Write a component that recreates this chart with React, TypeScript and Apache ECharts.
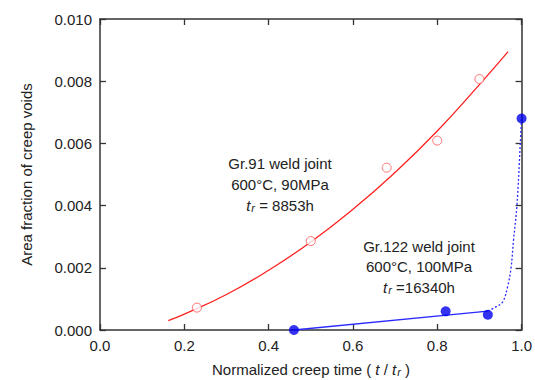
import React, { useEffect, useRef } from "react";
import * as echarts from "echarts";

const gr91PointsX = [0.23, 0.5, 0.68, 0.8, 0.9];
const gr91PointsY = [0.00072, 0.00286, 0.00522, 0.00609, 0.00807];
const gr91FitX = [0.162, 0.2, 0.3, 0.4, 0.5, 0.6, 0.7, 0.8, 0.9, 0.968];
const gr91FitY = [0.0003, 0.00051, 0.00114, 0.00192, 0.00283, 0.00388, 0.00507, 0.0064, 0.00789, 0.00895];
const gr122PointsX = [0.46, 0.82, 0.92, 1.0];
const gr122PointsY = [0.0, 0.0006, 0.00049, 0.0068];
const gr122LineX = [0.46, 0.92];
const gr122LineY = [0.0, 0.00061];
const gr122DotX = [0.92, 0.94, 0.955, 0.967, 0.975, 0.981, 0.989, 0.997, 1.0];
const gr122DotY = [0.00061, 0.00075, 0.0009, 0.0014, 0.002, 0.0029, 0.004, 0.006, 0.0068];
const xTicks = ["0.0", "0.2", "0.4", "0.6", "0.8", "1.0"];
const yTicks = ["0.000", "0.002", "0.004", "0.006", "0.008", "0.010"];

const FONT = "'Liberation Sans', Arial, sans-serif";
const pairs = (xs: number[], ys: number[]) => xs.map((x, i) => [x, ys[i]]);

export default function App() {
  const ref = useRef<HTMLDivElement>(null);
  useEffect(() => {
    document.body.style.margin = "0";
    if (!ref.current) return;
    const chart = echarts.init(ref.current, undefined, { renderer: "svg" });
    const axisLine = () => ({ show: true, onZero: false, lineStyle: { color: "#333", width: 1.5 } });
    const axisTick = () => ({ show: true, inside: true, length: 6, lineStyle: { color: "#333", width: 1.3 } });
    const rich = {
      i: { fontStyle: "italic" as const, fontSize: 15, fontFamily: FONT, fill: "#222" },
      s: { fontStyle: "italic" as const, fontSize: 11, fontFamily: FONT, fill: "#222", padding: [6, 0, 0, 1] },
      n: { fontSize: 15, fontFamily: FONT, fill: "#222" },
    };
    const label = (text: string, x: number, y: number, useRich = false) => ({
      type: "text", x, y,
      style: useRich
        ? { text, rich, fontSize: 15, fontFamily: FONT, fill: "#222", align: "center", verticalAlign: "middle" }
        : { text, fontSize: 15, fontFamily: FONT, fill: "#222", align: "center", verticalAlign: "middle" },
    });
    chart.setOption({
      animation: false,
      grid: { left: 100, top: 19, right: 12, bottom: 50 },
      xAxis: [
        {
          type: "value", position: "bottom", min: 0, max: 1, interval: 0.2,
          axisLine: axisLine(), axisTick: axisTick(), splitLine: { show: false },
          axisLabel: { color: "#222", fontSize: 15, fontFamily: FONT, margin: 8, formatter: (v: number) => xTicks[Math.round(v / 0.2)] },
        },
        {
          type: "value", position: "top", min: 0, max: 1, interval: 0.2,
          axisLine: axisLine(), axisTick: axisTick(), splitLine: { show: false }, axisLabel: { show: false },
        },
      ],
      yAxis: [
        {
          type: "value", position: "left", min: 0, max: 0.01, interval: 0.002,
          name: "Area fraction of creep voids", nameLocation: "middle", nameGap: 66,
          nameTextStyle: { color: "#222", fontSize: 15, fontFamily: FONT },
          axisLine: axisLine(), axisTick: axisTick(), splitLine: { show: false },
          axisLabel: { color: "#222", fontSize: 15, fontFamily: FONT, margin: 8, formatter: (v: number) => yTicks[Math.round(v / 0.002)] },
        },
        {
          type: "value", position: "right", min: 0, max: 0.01, interval: 0.002,
          axisLine: axisLine(), axisTick: axisTick(), splitLine: { show: false }, axisLabel: { show: false },
        },
      ],
      graphic: [
        label("Normalized creep time ( {i|t} / {i|t}{s|r} )", 311, 369, true),
        label("Gr.91 weld joint", 280, 163),
        label("600°C, 90MPa", 280, 184),
        label("{i|t}{s|r}{n| = 8853h}", 280, 205, true),
        label("Gr.122 weld joint", 419, 246),
        label("600°C, 100MPa", 419, 266),
        label("{i|t}{s|r}{n| =16340h}", 419, 287, true),
      ],
      series: [
        {
          type: "line", data: pairs(gr91FitX, gr91FitY), smooth: true, showSymbol: false,
          lineStyle: { color: "#ff2020", width: 1.3 }, z: 2,
        },
        {
          type: "scatter", data: pairs(gr91PointsX, gr91PointsY), symbol: "circle", symbolSize: 9, clip: false,
          itemStyle: { color: "#fff", borderColor: "#ff5050", borderWidth: 1 }, z: 3,
        },
        {
          type: "line", data: pairs(gr122LineX, gr122LineY), showSymbol: false,
          lineStyle: { color: "#2a2aff", width: 1.3 }, z: 2,
        },
        {
          type: "line", data: pairs(gr122DotX, gr122DotY), smooth: 0.4, showSymbol: false,
          lineStyle: { color: "#2a2aff", width: 1.3, type: [2, 2] }, z: 2,
        },
        {
          type: "scatter", data: pairs(gr122PointsX, gr122PointsY), symbol: "circle", symbolSize: 10, clip: false,
          itemStyle: { color: "#0000ee" }, z: 4,
        },
      ],
    });
    return () => chart.dispose();
  }, []);
  return <div ref={ref} style={{ width: 535, height: 380 }} />;
}
